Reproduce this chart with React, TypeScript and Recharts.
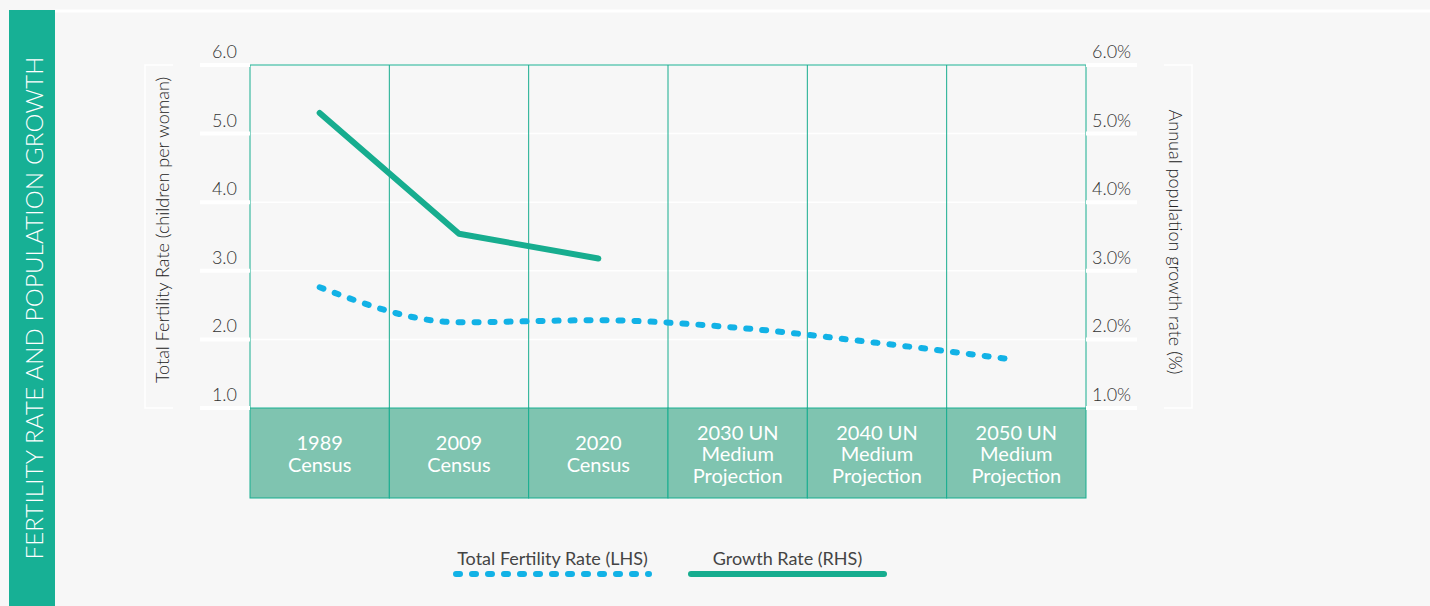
import {
  ComposedChart,
  Line,
  XAxis,
  YAxis,
  CartesianGrid,
  ReferenceLine,
  Legend,
} from "recharts";

const categories = [
  "1989 Census",
  "2009 Census",
  "2020 Census",
  "2030 UN Medium Projection",
  "2040 UN Medium Projection",
  "2050 UN Medium Projection",
];
const categoryLines = [
  ["1989", "Census"],
  ["2009", "Census"],
  ["2020", "Census"],
  ["2030 UN", "Medium", "Projection"],
  ["2040 UN", "Medium", "Projection"],
  ["2050 UN", "Medium", "Projection"],
];
const fertilityRate = [2.76, 2.25, 2.28, 2.17, 1.95, 1.7];
const growthRate = [5.3, 3.54, 3.18, null, null, null];
const axisTicks = [1, 2, 3, 4, 5, 6];
const legendOrder = ["Total Fertility Rate (LHS)", "Growth Rate (RHS)"];

const data = categories.map((name, i) => ({
  name,
  tfr: fertilityRate[i],
  growth: growthRate[i],
}));

const W = 1430;
const H = 606;
const PLOT_LEFT = 250;
const PLOT_RIGHT = 1086;
const PLOT_TOP = 65;
const PLOT_BOTTOM = 408;
const BAND_H = 90;
const PLOT_W = PLOT_RIGHT - PLOT_LEFT;

const TEAL = "#17ad8f";
const BAND_FILL = "#7fc4b0";
const BLUE = "#12b2e6";
const TEXT = "#333";
const FONT = "Lato, 'Open Sans', sans-serif";

function LeftTick({ x, y, payload }: any) {
  return (
    <g>
      <line x1={x - 50} x2={x} y1={y} y2={y} stroke="#fff" strokeWidth={4} />
      <text x={x - 13} y={y - 7} textAnchor="end" fontSize={18} fontWeight={300} fill={TEXT} fontFamily={FONT}>
        {Number(payload.value).toFixed(1)}
      </text>
    </g>
  );
}

function RightTick({ x, y, payload }: any) {
  return (
    <g>
      <line x1={x} x2={x + 51} y1={y} y2={y} stroke="#fff" strokeWidth={4} />
      <text x={x + 6} y={y - 7} textAnchor="start" fontSize={18} fontWeight={300} fill={TEXT} fontFamily={FONT}>
        {Number(payload.value).toFixed(1)}%
      </text>
    </g>
  );
}

function CategoryTick({ x, y, index }: any) {
  const bw = PLOT_W / categories.length;
  const lines = categoryLines[index] || [];
  const lh = 21.5;
  const startY = y + BAND_H / 2 - ((lines.length - 1) * lh) / 2;
  return (
    <g>
      <rect x={x - bw / 2} y={y} width={bw} height={BAND_H} fill={BAND_FILL} stroke={TEAL} strokeWidth={1} />
      {lines.map((t: string, i: number) => (
        <text
          key={i}
          x={x}
          y={startY + i * lh}
          textAnchor="middle"
          dominantBaseline="central"
          fontSize={20}
          fontWeight={400}
          fill="#fff"
          fontFamily={FONT}
        >
          {t}
        </text>
      ))}
    </g>
  );
}

function renderLegend(props: any) {
  const payload = [...(props.payload || [])].sort(
    (a: any, b: any) => legendOrder.indexOf(a.value) - legendOrder.indexOf(b.value)
  );
  return (
    <div style={{ display: "flex", gap: 36, fontFamily: FONT }}>
      {payload.map((entry: any) => (
        <div key={entry.value} style={{ width: 199, display: "flex", flexDirection: "column", alignItems: "center" }}>
          <div style={{ fontSize: 18, fontWeight: 400, lineHeight: "20px", color: "#444", whiteSpace: "nowrap" }}>
            {entry.value}
          </div>
          <svg width={199} height={12} style={{ display: "block" }}>
            <line
              x1={3}
              x2={196}
              y1={6}
              y2={6}
              stroke={entry.color}
              strokeWidth={6}
              strokeLinecap="round"
              strokeDasharray={entry.payload && entry.payload.strokeDasharray ? "4 12" : undefined}
            />
          </svg>
        </div>
      ))}
    </div>
  );
}

export default function App() {
  return (
    <div
      style={{
        position: "absolute",
        left: 0,
        top: 0,
        width: W,
        height: H,
        background: "#f7f7f7",
        fontFamily: FONT,
        overflow: "hidden",
      }}
    >
      <svg width={W} height={H} style={{ position: "absolute", left: 0, top: 0 }}>
        <line x1={55} x2={W} y1={11} y2={11} stroke="#fff" strokeWidth={3} />
        <rect x={9} y={10} width={46} height={H - 10} fill="#17b095" />
        <text
          transform="translate(33, 308) rotate(-90)"
          textAnchor="middle"
          dominantBaseline="central"
          fontSize={24}
          fontWeight={300}
          fill="#fff"
          fontFamily={FONT}
          letterSpacing={0.2}
        >
          FERTILITY RATE AND POPULATION GROWTH
        </text>
        <path d="M173 65 H145 V408 H173" fill="none" stroke="#fff" strokeWidth={1.5} />
        <text
          transform="translate(162, 230) rotate(-90)"
          textAnchor="middle"
          dominantBaseline="central"
          fontSize={18}
          fontWeight={300}
          fill="#222"
          fontFamily={FONT}
        >
          Total Fertility Rate (children per woman)
        </text>
        <path d="M1164 65 H1192 V408 H1164" fill="none" stroke="#fff" strokeWidth={1.5} />
        <text
          transform="translate(1176, 242) rotate(90)"
          textAnchor="middle"
          dominantBaseline="central"
          fontSize={18}
          fontWeight={300}
          fill="#222"
          fontFamily={FONT}
        >
          Annual population growth rate (%)
        </text>
      </svg>
      <div style={{ position: "absolute", left: 0, top: 0 }}>
        <ComposedChart
          width={W}
          height={H}
          data={data}
          margin={{ top: PLOT_TOP, left: PLOT_LEFT - 100, right: W - PLOT_RIGHT - 100, bottom: H - PLOT_BOTTOM - BAND_H }}
        >
          <CartesianGrid yAxisId="left" vertical={false} stroke="#fff" strokeWidth={1.5} />
          <CartesianGrid
            yAxisId="left"
            horizontal={false}
            stroke={TEAL}
            strokeWidth={1}
            verticalCoordinatesGenerator={({ offset }: any) =>
              categories.map((_, i) => offset.left + i * (offset.width / categories.length)).concat(offset.left + offset.width)
            }
          />
          <XAxis
            dataKey="name"
            scale="band"
            height={BAND_H}
            axisLine={false}
            tickLine={false}
            tickSize={0}
            tickMargin={0}
            interval={0}
            tick={<CategoryTick />}
          />
          <YAxis
            yAxisId="left"
            domain={[1, 6]}
            ticks={axisTicks}
            width={100}
            axisLine={false}
            tickLine={false}
            tickSize={0}
            tickMargin={0}
            tick={<LeftTick />}
          />
          <YAxis
            yAxisId="right"
            orientation="right"
            domain={[1, 6]}
            ticks={axisTicks}
            width={100}
            axisLine={false}
            tickLine={false}
            tickSize={0}
            tickMargin={0}
            tick={<RightTick />}
          />
          <ReferenceLine yAxisId="left" y={6} stroke={TEAL} strokeWidth={1} />
          <Legend
            verticalAlign="middle"
            align="center"
            layout="horizontal"
            wrapperStyle={{ top: 548, left: 453, width: 470 }}
            content={renderLegend}
          />
          <Line
            yAxisId="left"
            type="monotone"
            dataKey="tfr"
            name="Total Fertility Rate (LHS)"
            stroke={BLUE}
            strokeWidth={6}
            strokeDasharray="4 12"
            strokeLinecap="round"
            dot={false}
            activeDot={false}
            isAnimationActive={false}
          />
          <Line
            yAxisId="right"
            type="linear"
            dataKey="growth"
            name="Growth Rate (RHS)"
            stroke={TEAL}
            strokeWidth={6}
            strokeLinecap="round"
            strokeLinejoin="round"
            dot={false}
            activeDot={false}
            isAnimationActive={false}
          />
        </ComposedChart>
      </div>
    </div>
  );
}
